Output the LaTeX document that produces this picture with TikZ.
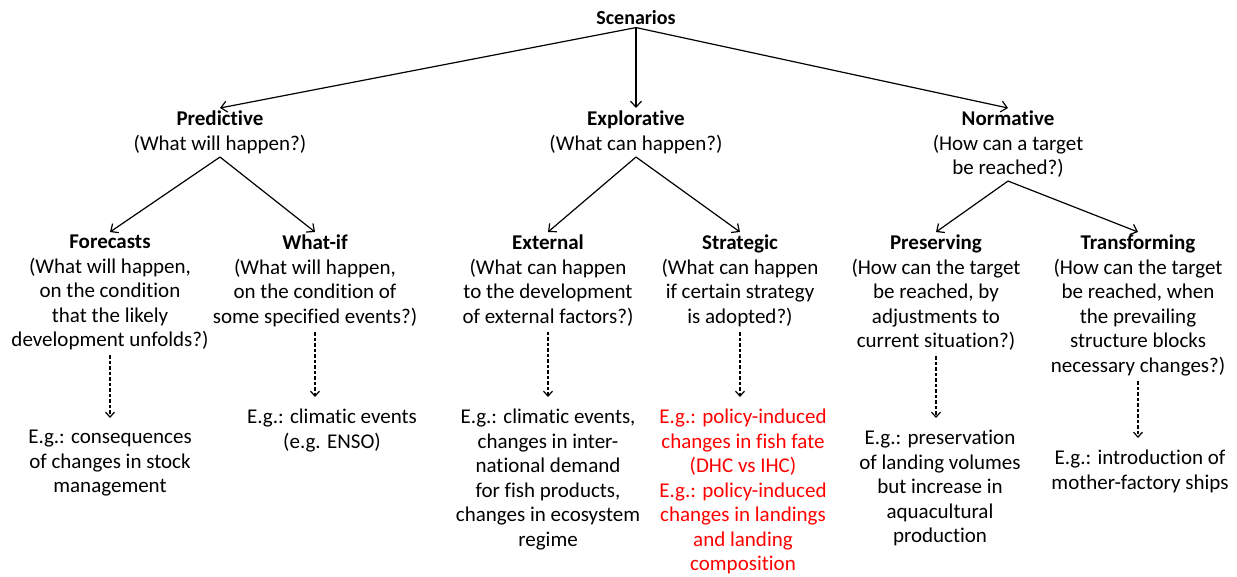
\documentclass[tikz,border=0pt]{standalone}
\usepackage{fontspec}
\setmainfont{Carlito}[Ligatures=NoCommon]
\usetikzlibrary{arrows.meta}
\begin{document}
\begin{tikzpicture}[x=1pt,y=-1pt,
  txt/.style={align=center,inner sep=3pt,anchor=north,font=\fontsize{21}{24.5}\selectfont},
  ex/.style={txt},
  redex/.style={txt,text=red},
  solidarr/.style={line width=1.2pt,-{Straight Barb[length=6pt,width=11pt,line width=1.2pt]}},
  dasharr/.style={line width=1.2pt,dash pattern=on 3.5pt off 2pt,-{Straight Barb[length=5pt,width=9pt,line width=1.2pt]}}]
\useasboundingbox (0,0) rectangle (1237,576);
\node[txt,font=\fontsize{20}{24.5}\selectfont] (scen) at (636,7) {\textbf{Scenarios}};
\node[txt] (pred) at (220,108) {\textbf{Predictive}\\(What will happen?)};
\node[txt] (expl) at (636,108) {\textbf{Explorative}\\(What can happen?)};
\node[txt] (norm) at (1008,108) {\textbf{Normative}\\(How can a target\\be reached?)};
\node[txt] (fore) at (110,232) {\textbf{Forecasts}\\(What will happen,\\on the condition\\that the likely\\development unfolds?)};
\node[txt] (whatif) at (315,232) {\textbf{What-if}\\(What will happen,\\on the condition of\\some specified events?)};
\node[txt] (ext) at (548,232) {\textbf{External}\\(What can happen\\to the development\\of external factors?)};
\node[txt] (strat) at (740,232) {\textbf{Strategic}\\(What can happen\\if certain strategy\\is adopted?)};
\node[txt] (pres) at (936,232) {\textbf{Preserving}\\(How can the target\\be reached, by\\adjustments to\\current situation?)};
\node[txt] (trans) at (1138,232) {\textbf{Transforming}\\(How can the target\\be reached, when\\the prevailing\\structure blocks\\necessary changes?)};
\node[ex] (foreex) at (110,427) {E.g.: consequences\\of changes in stock\\management};
\node[ex] (whatifex) at (332,406) {E.g.: climatic events\\(e.g. ENSO)};
\node[ex] (extex) at (548,406) {E.g.: climatic events,\\changes in inter-\\national demand\\for fish products,\\changes in ecosystem\\regime};
\node[redex] (stratex) at (743,406) {E.g.: policy-induced\\changes in fish fate\\(DHC vs IHC)\\E.g.: policy-induced\\changes in landings\\and landing\\composition};
\node[ex] (presex) at (940,427) {E.g.: preservation\\of landing volumes\\but increase in\\aquacultural\\production};
\node[ex] (transex) at (1140,447) {E.g.: introduction of\\mother-factory ships};
\draw[solidarr] (scen.south) -- (pred.north);
\draw[solidarr] (scen.south) -- (expl.north);
\draw[solidarr] (scen.south) -- (norm.north);
\draw[solidarr] (pred.south) -- (fore.north);
\draw[solidarr] (pred.south) -- (whatif.north);
\draw[solidarr] (expl.south) -- (ext.north);
\draw[solidarr] (expl.south) -- (strat.north);
\draw[solidarr] (norm.south) -- (pres.north);
\draw[solidarr] (norm.south) -- (trans.north);
\draw[dasharr] ([yshift=-2pt]fore.south) -- ([yshift=9pt]fore.south |- foreex.north);
\draw[dasharr] ([yshift=-2pt]whatif.south) -- ([yshift=9pt]whatif.south |- whatifex.north);
\draw[dasharr] ([yshift=-2pt]ext.south) -- ([yshift=9pt]ext.south |- extex.north);
\draw[dasharr] ([yshift=-2pt]strat.south) -- ([yshift=9pt]strat.south |- stratex.north);
\draw[dasharr] ([yshift=-2pt]pres.south) -- ([yshift=9pt]pres.south |- presex.north);
\draw[dasharr] ([yshift=-2pt]trans.south) -- ([yshift=9pt]trans.south |- transex.north);
\end{tikzpicture}
\end{document}
